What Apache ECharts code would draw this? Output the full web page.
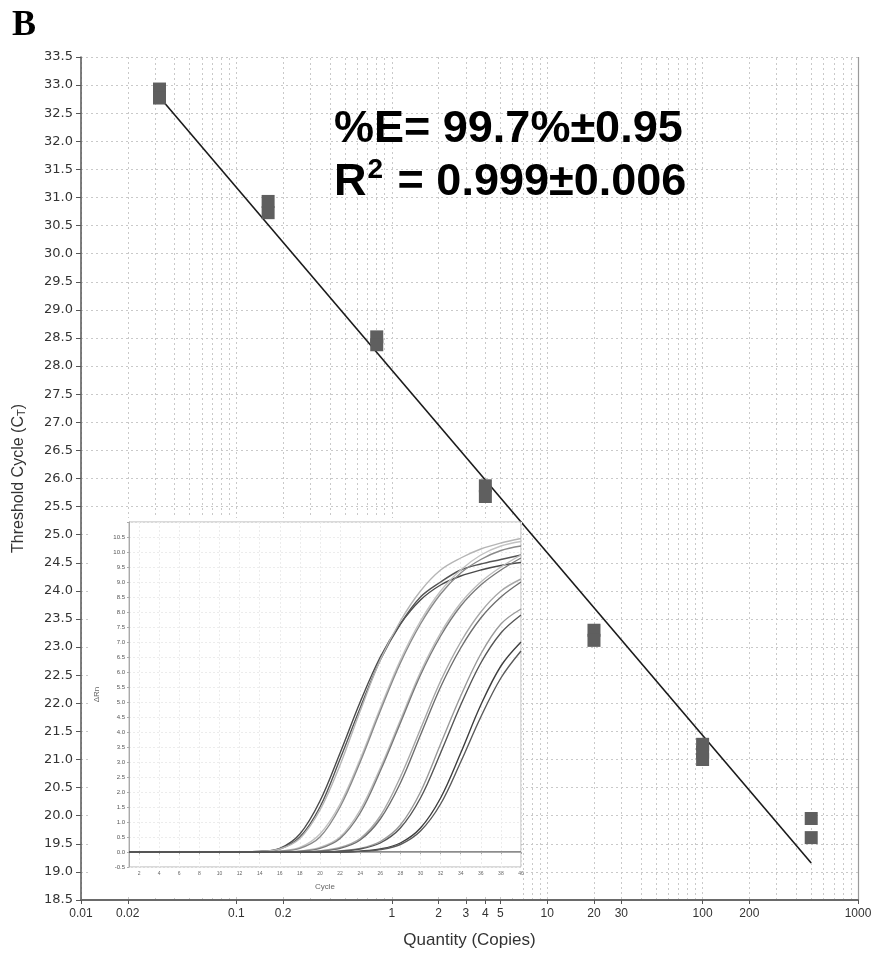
<!DOCTYPE html>
<html>
<head>
<meta charset="utf-8">
<script src="https://cdn.jsdelivr.net/npm/echarts@6/dist/echarts.min.js"></script>
<style>
  html, body { margin: 0; padding: 0; background: #fff; }
  #chart { width: 875px; height: 955px; }
</style>
</head>
<body>
<div id="chart"></div>
<script>
// standard curve: quantity (copies) vs threshold cycle, replicates
var quantity = [0.032, 0.032, 0.16, 0.16, 0.8, 0.8, 4, 4, 20, 20, 100, 100, 100, 500, 500];
var ctValues = [32.93, 32.77, 30.93, 30.73, 28.52, 28.38, 25.87, 25.68, 23.30, 23.12, 21.27, 21.13, 21.00, 19.95, 19.61];

// regression line end points
var fitQty = [0.0345, 500];
var fitCt = [32.68, 19.16];

var xTickValues = [0.01, 0.02, 0.1, 0.2, 1, 2, 3, 4, 5, 10, 20, 30, 100, 200, 1000];

// inset: amplification plot (delta Rn vs cycle)
var cycles = [1, 10, 14, 16, 18, 20, 22, 24, 26, 28, 30, 32, 34, 36, 38, 40];
var curveA1 = [0, 0, 0.02, 0.12, 0.6, 1.7, 3.3, 5.0, 6.5, 7.6, 8.4, 8.9, 9.2, 9.4, 9.55, 9.65];
var curveA2 = [0, 0, 0.02, 0.10, 0.5, 1.5, 3.1, 4.8, 6.4, 7.6, 8.5, 9.0, 9.4, 9.6, 9.75, 9.9];
var curveA3 = [0, 0, 0.02, 0.10, 0.45, 1.4, 2.9, 4.7, 6.4, 7.7, 8.7, 9.4, 9.8, 10.1, 10.3, 10.45];
var curveB1 = [0, 0, 0, 0.03, 0.15, 0.6, 1.6, 3.1, 4.8, 6.4, 7.7, 8.7, 9.4, 9.9, 10.2, 10.35];
var curveB2 = [0, 0, 0, 0.03, 0.12, 0.5, 1.5, 3.0, 4.7, 6.3, 7.6, 8.6, 9.3, 9.75, 10.05, 10.2];
var curveC1 = [0, 0, 0, 0, 0.03, 0.15, 0.5, 1.4, 2.8, 4.4, 6.0, 7.3, 8.3, 9.0, 9.5, 9.9];
var curveC2 = [0, 0, 0, 0, 0.03, 0.12, 0.45, 1.3, 2.7, 4.3, 5.9, 7.2, 8.2, 8.9, 9.4, 9.8];
var curveD1 = [0, 0, 0, 0, 0, 0.04, 0.15, 0.45, 1.2, 2.5, 4.1, 5.7, 7.0, 8.0, 8.7, 9.1];
var curveD2 = [0, 0, 0, 0, 0, 0.03, 0.12, 0.4, 1.1, 2.3, 3.9, 5.5, 6.8, 7.8, 8.5, 9.0];
var curveE1 = [0, 0, 0, 0, 0, 0, 0.04, 0.12, 0.35, 0.9, 2.0, 3.6, 5.2, 6.6, 7.6, 8.1];
var curveE2 = [0, 0, 0, 0, 0, 0, 0.03, 0.1, 0.3, 0.8, 1.8, 3.3, 4.9, 6.3, 7.3, 7.9];
var curveF1 = [0, 0, 0, 0, 0, 0, 0, 0.03, 0.1, 0.3, 0.8, 1.8, 3.3, 4.9, 6.2, 7.0];
var curveF2 = [0, 0, 0, 0, 0, 0, 0, 0.02, 0.08, 0.25, 0.7, 1.6, 3.0, 4.5, 5.8, 6.7];

var curveList = [
  [curveA1, '#4a4a4a'], [curveA2, '#555555'], [curveA3, '#b5b5b5'],
  [curveB1, '#c2c2c2'], [curveB2, '#8a8a8a'],
  [curveC1, '#bdbdbd'], [curveC2, '#7a7a7a'],
  [curveD1, '#a8a8a8'], [curveD2, '#6e6e6e'],
  [curveE1, '#9a9a9a'], [curveE2, '#555555'],
  [curveF1, '#3f3f3f'], [curveF2, '#5a5a5a']
];

function pairs(xs, ys) {
  return xs.map(function (x, i) { return [x, ys[i]]; });
}

// minor log grid lines (2..9 in each decade)
var minorGrid = [];
[0.01, 0.1, 1, 10, 100].forEach(function (d) {
  for (var m = 2; m <= 9; m++) {
    var v = +(d * m).toPrecision(3);
    if (xTickValues.indexOf(v) < 0) minorGrid.push({xAxis: v});
  }
});

var gridLine = {color: '#c9c9c9', type: [2, 3], width: 1};
var insetCycleLabels = [];
for (var c = 2; c <= 40; c += 2) insetCycleLabels.push(c);

var series = [
  {
    type: 'line',
    xAxisIndex: 0, yAxisIndex: 0,
    data: pairs(fitQty, fitCt),
    symbol: 'none',
    lineStyle: {color: '#1a1a1a', width: 1.6},
    z: 3,
    silent: true,
    markLine: {
      silent: true,
      symbol: 'none',
      z: 0,
      label: {show: false},
      lineStyle: gridLine,
      data: minorGrid.concat([{xAxis: 1000, lineStyle: {color: '#9a9a9a', type: 'solid', width: 1.2}}])
    }
  },
  {
    type: 'scatter',
    xAxisIndex: 0, yAxisIndex: 0,
    data: pairs(quantity, ctValues),
    symbol: 'rect',
    symbolSize: 13,
    itemStyle: {color: '#5f5f5f', opacity: 1},
    z: 4
  }
];

curveList.forEach(function (cv, i) {
  var s = {
    type: 'line',
    xAxisIndex: 1, yAxisIndex: 1,
    data: pairs(cycles, cv[0]),
    smooth: 0.35,
    symbol: 'none',
    lineStyle: {color: cv[1], width: 1.4},
    z: 6,
    silent: true
  };
  if (i === 0) {
    s.markLine = {
      silent: true, symbol: 'none', z: 5,
      label: {show: false},
      lineStyle: {color: '#8c8c8c', type: 'solid', width: 2},
      data: [{yAxis: 0}]
    };
  }
  series.push(s);
});

var chart = echarts.init(document.getElementById('chart'));
chart.setOption({
  backgroundColor: '#fff',
  animation: false,
  grid: [
    {left: 81, right: 17, top: 57, bottom: 55, outerBoundsMode: 'none', containLabel: false},
    {left: 129, right: 354, top: 522, bottom: 88, outerBoundsMode: 'none', containLabel: false}
  ],
  xAxis: [
    {
      type: 'log',
      gridIndex: 0,
      min: 0.01, max: 1000,
      name: 'Quantity (Copies)',
      nameLocation: 'middle',
      nameGap: 32,
      nameTextStyle: {fontFamily: 'Liberation Sans', fontSize: 17, color: '#333'},
      axisLine: {lineStyle: {color: '#6a6a6a', width: 2}},
      axisTick: {show: true, customValues: xTickValues, length: 4, lineStyle: {color: '#555'}},
      axisLabel: {
        customValues: xTickValues,
        margin: 8,
        fontFamily: 'Liberation Sans Narrow, Liberation Sans',
        fontSize: 12,
        color: '#333',
        formatter: function (v) { return String(+(+v).toPrecision(3)); }
      },
      splitLine: {show: true, lineStyle: gridLine}
    },
    {
      type: 'value',
      gridIndex: 1,
      min: 1, max: 40,
      name: 'Cycle',
      nameLocation: 'middle',
      nameGap: 16,
      nameTextStyle: {fontSize: 8, color: '#666'},
      z: 5,
      axisLine: {lineStyle: {color: '#aaa'}},
      axisTick: {customValues: insetCycleLabels, length: 2, lineStyle: {color: '#aaa'}},
      axisLabel: {customValues: insetCycleLabels, fontSize: 5, color: '#666', margin: 4},
      splitLine: {show: true, lineStyle: {color: '#ececec', type: [2, 2]}}
    }
  ],
  yAxis: [
    {
      type: 'value',
      gridIndex: 0,
      min: 18.5, max: 33.5, interval: 0.5,
      name: '{a|Threshold Cycle (C}{s|T}{a|)}',
      nameLocation: 'middle',
      nameGap: 54,
      nameRotate: 90,
      nameTextStyle: {
        rich: {
          a: {fontFamily: 'Liberation Sans', fontSize: 16, color: '#333'},
          s: {fontFamily: 'Liberation Sans', fontSize: 11, color: '#333', verticalAlign: 'bottom', lineHeight: 16}
        }
      },
      axisLine: {show: true, lineStyle: {color: '#555', width: 1.5}},
      axisTick: {show: true, length: 5, lineStyle: {color: '#555'}},
      axisLabel: {
        margin: 8,
        fontFamily: 'DejaVu Sans',
        fontSize: 13,
        color: '#333',
        formatter: function (v) { return v.toFixed(1); }
      },
      splitLine: {show: true, lineStyle: gridLine}
    },
    {
      type: 'value',
      gridIndex: 1,
      min: -0.5, max: 11, interval: 0.5,
      name: 'ΔRn',
      nameLocation: 'middle',
      nameGap: 28,
      nameRotate: 90,
      nameTextStyle: {fontSize: 8, color: '#666'},
      z: 5,
      axisLine: {show: true, lineStyle: {color: '#aaa'}},
      axisTick: {show: true, length: 2, lineStyle: {color: '#aaa'}},
      axisLabel: {
        fontSize: 6, color: '#555', margin: 4,
        formatter: function (v) { return v > 10.6 ? '' : v.toFixed(1); }
      },
      splitLine: {show: true, lineStyle: {color: '#ececec', type: [2, 2]}}
    }
  ],
  graphic: [
    {
      type: 'rect', z: 1, silent: true,
      shape: {x: 88, y: 518, width: 433, height: 378},
      style: {fill: '#fff'}
    },
    {
      type: 'rect', z: 5, silent: true,
      shape: {x: 129, y: 522, width: 392, height: 345},
      style: {fill: 'none', stroke: '#b5b5b5', lineWidth: 1}
    },
    {
      type: 'text', left: 12, top: 8, z: 10,
      style: {text: 'B', font: 'bold 36px "Liberation Serif"', fill: '#000'}
    },
    {
      type: 'text', left: 334, top: 107, z: 10,
      style: {
        text: '{m|%E= 99.7%±0.95}\n{m|R}{s|2}{m| = 0.999±0.006}',
        rich: {
          m: {font: 'bold 45px "Liberation Sans"', fill: '#000', lineHeight: 53},
          s: {font: 'bold 28px "Liberation Sans"', fill: '#000', lineHeight: 53, verticalAlign: 'top', padding: [0, 2, 0, 1]}
        }
      }
    }
  ],
  series: series
});
</script>
</body>
</html>
